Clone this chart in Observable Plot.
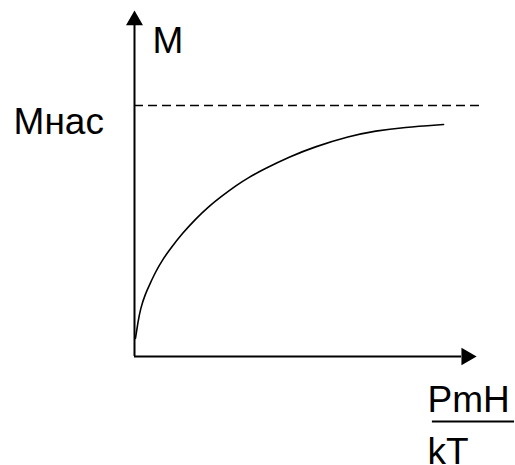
<!DOCTYPE html>
<html>
<head>
<meta charset="utf-8">
<script src="https://cdn.jsdelivr.net/npm/d3@7"></script>
<script src="https://cdn.jsdelivr.net/npm/@observablehq/plot@0.6"></script>
<style>
  html, body { margin: 0; padding: 0; background: #fff; }
  svg { display: block; }
</style>
</head>
<body>
<div id="chart"></div>
<script>
// Magnetization curve M(PmH/kT), saturation level Mнас = 1
const curveX = [0.03, 0.11, 0.19, 0.35, 0.52, 0.68, 0.89, 1.16, 1.54, 1.97, 2.39, 2.77, 3.31, 3.68, 4.16, 5.03, 5.77, 6.94, 7.77, 8.68, 9.97];
const curveM = [0.072, 0.135, 0.19, 0.25, 0.295, 0.337, 0.383, 0.43, 0.49, 0.548, 0.597, 0.635, 0.684, 0.713, 0.746, 0.797, 0.834, 0.878, 0.899, 0.913, 0.924];
const Msat = 1;
const labels = { y: "M", sat: "Мнас", num: "PmH", den: "kT" };

const curve = curveX.map((x, i) => ({ x, M: curveM[i] }));
const font = "Liberation Sans, Arial, sans-serif";
const fs = 37;

const chart = Plot.plot({
  width: 515,
  height: 465,
  margin: 0,
  style: { background: "#fff", overflow: "visible" },
  x: { domain: [0, 10], range: [134, 444], axis: null },
  y: { domain: [0, 1], range: [356, 105], axis: null },
  marks: [
    // dashed saturation line
    Plot.ruleY([Msat], { x1: 0, x2: 11.16, stroke: "#000", strokeWidth: 1.5, strokeDasharray: "9,5" }),
    // axes
    Plot.ruleX([0], { y1: 0, y2: 1.32, stroke: "#000", strokeWidth: 2 }),
    Plot.ruleY([0], { x1: 0, x2: 10.55, stroke: "#000", strokeWidth: 2 }),
    // arrowheads
    Plot.dot([{ x: 0, M: 1.339 }], { x: "x", y: "M", symbol: "triangle", r: 6.3, fill: "#000", stroke: "none" }),
    Plot.dot([{ x: 10.71, M: 0 }], { x: "x", y: "M", symbol: "triangle", r: 6.5, fill: "#000", stroke: "none", rotate: 90 }),
    // curve
    Plot.line(curve, { x: "x", y: "M", stroke: "#000", strokeWidth: 1.6, curve: "basis" }),
    // labels
    Plot.text([labels.y], { x: 0.58, y: 1.211, text: d => d, textAnchor: "start", lineAnchor: "bottom", fontSize: fs, fontFamily: font, fill: "#000" }),
    Plot.text([labels.sat], { x: -3.9, y: 0.888, text: d => d, textAnchor: "start", lineAnchor: "bottom", fontSize: fs, fontFamily: font, fill: "#000" }),
    Plot.text([labels.num], { x: 9.45, y: -0.223, text: d => d, textAnchor: "start", lineAnchor: "bottom", fontSize: fs, fontFamily: font, fill: "#000" }),
    Plot.ruleY([-0.259], { x1: 9.61, x2: 12.26, stroke: "#000", strokeWidth: 2 }),
    Plot.text([labels.den], { x: 9.45, y: -0.43, text: d => d, textAnchor: "start", lineAnchor: "bottom", fontSize: fs, fontFamily: font, fill: "#000" })
  ]
});
document.getElementById("chart").appendChild(chart);
</script>
</body>
</html>
